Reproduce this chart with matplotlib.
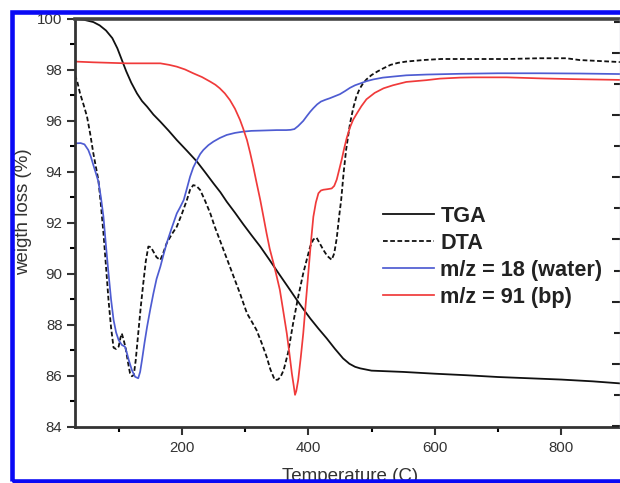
import matplotlib
matplotlib.use("Agg")
import matplotlib.pyplot as plt
from matplotlib.patches import Rectangle
from matplotlib.ticker import MultipleLocator

plt.rcParams['font.family'] = ['Liberation Sans', 'DejaVu Sans']

# TGA (solid black)
tga_t = [31, 45, 60, 70, 80, 90, 98, 105, 112, 120, 129, 137, 145, 155, 166, 179, 192,
         208, 224, 237, 250, 261, 271, 284, 297, 310, 324, 338, 353, 368, 382, 392,
         403, 416, 429, 442, 455, 465, 474, 482, 500, 550, 600, 650, 700, 750, 800,
         850, 893]
tga_v = [100.0, 99.97, 99.88, 99.75, 99.55, 99.25, 98.85, 98.4, 97.95, 97.5, 97.08,
         96.78, 96.56, 96.25, 95.97, 95.62, 95.25, 94.83, 94.4, 93.98, 93.55, 93.2,
         92.83, 92.4, 91.95, 91.52, 91.07, 90.57, 90.02, 89.48, 88.97, 88.62, 88.25,
         87.85, 87.47, 87.06, 86.68, 86.47, 86.35, 86.29, 86.2, 86.15, 86.08, 86.02,
         85.95, 85.9, 85.85, 85.78, 85.7]

# DTA (dashed black)
dta_t = [31, 35, 39, 45, 50, 55, 60, 64, 68, 72, 76, 80, 84, 88, 92, 96, 100, 103,
         105, 108, 111, 115, 118, 121, 124, 127, 131, 135, 139, 143, 147, 151, 155,
         160, 166, 171, 176, 184, 192, 200, 208, 213, 218, 223, 229, 237, 245, 252,
         260, 268, 276, 284, 292, 298, 303, 310, 318, 326, 334, 340, 347, 352, 356,
         361, 368, 376, 384, 392, 398, 403, 408, 413, 418, 424, 430, 437, 441, 445,
         449, 452, 456, 460, 463, 466, 471, 476, 481, 486, 492, 500, 510, 520, 530,
         542, 555, 582, 610, 660, 715, 766, 808, 829, 861, 893]
dta_v = [97.8, 97.5, 97.08, 96.6, 96.17, 95.5, 94.73, 94.2, 93.68, 92.7, 91.6, 90.3,
         88.97, 87.9, 87.1, 87.05, 87.14, 87.5, 87.66, 87.4, 87.1, 86.5, 86.1, 85.98,
         86.03, 86.6, 87.66, 88.7, 89.63, 90.5, 91.07, 91.05, 90.87, 90.65, 90.54,
         90.85, 91.2, 91.55, 91.85, 92.35, 92.9, 93.3, 93.48, 93.45, 93.29, 92.85,
         92.37, 91.85, 91.33, 90.8, 90.28, 89.75, 89.23, 88.8, 88.45, 88.15, 87.8,
         87.3, 86.75, 86.25, 85.83, 85.85, 85.95, 86.22, 86.9, 88.06, 89.1, 90.02,
         90.6, 91.07, 91.35, 91.42, 91.2, 90.93, 90.7, 90.55, 90.8, 91.4, 92.3, 92.9,
         94.0, 94.9, 95.4, 95.9, 96.5, 96.95, 97.25, 97.45, 97.63, 97.8, 97.95, 98.08,
         98.2, 98.28, 98.33, 98.39, 98.43, 98.43, 98.43, 98.46, 98.46, 98.39, 98.35,
         98.31]

# m/z = 18 (water)
w_t = [31, 40, 46, 52, 56, 60, 64, 68, 72, 76, 80, 84, 88, 92, 96, 100, 105, 110,
       113, 116, 121, 126, 131, 134, 137, 141, 145, 150, 155, 160, 166, 171, 176, 184,
       192, 197, 203, 208, 213, 218, 224, 229, 234, 242, 250, 260, 271, 284, 297, 310,
       324, 350, 365, 372, 378, 384, 392, 398, 403, 408, 414, 420, 427, 434, 442, 450,
       458, 466, 474, 482, 492, 503, 518, 534, 555, 587, 640, 700, 766, 830, 893]
w_v = [95.12, 95.13, 95.08, 94.86, 94.6, 94.27, 93.95, 93.62, 93.0, 92.24, 91.1,
       90.02, 89.0, 88.19, 87.7, 87.4, 87.21, 87.14, 86.9, 86.62, 86.22, 85.96, 85.9,
       86.15, 86.62, 87.3, 87.92, 88.6, 89.23, 89.8, 90.28, 90.75, 91.2, 91.8, 92.37,
       92.6, 92.9, 93.35, 93.81, 94.17, 94.47, 94.7, 94.86, 95.05, 95.19, 95.33,
       95.45, 95.53, 95.58, 95.61, 95.62, 95.64, 95.64, 95.65, 95.68, 95.8, 96.0,
       96.2, 96.36, 96.5, 96.65, 96.76, 96.83, 96.89, 96.97, 97.05, 97.17, 97.3,
       97.4, 97.47, 97.56, 97.63, 97.7, 97.74, 97.79, 97.82, 97.85, 97.87, 97.87,
       97.86, 97.84]

# m/z = 91 (bp)
bp_t = [31, 60, 113, 166, 180, 192, 205, 218, 232, 245, 253, 260, 268, 276, 284, 292,
        297, 303, 308, 313, 318, 324, 329, 334, 339, 345, 350, 355, 360, 366, 370, 374,
        377, 379, 381, 384, 388, 392, 396, 400, 404, 408, 412, 416, 420, 424, 430, 437,
        441, 445, 449, 453, 457, 461, 466, 471, 477, 484, 492, 505, 519, 534, 555, 587,
        608, 640, 661, 714, 766, 819, 893]
bp_v = [98.33, 98.3, 98.26, 98.26, 98.2, 98.13, 98.02, 97.87, 97.72, 97.54, 97.42,
        97.28, 97.08, 96.82, 96.48, 96.04, 95.7, 95.25, 94.75, 94.2, 93.6, 92.9, 92.25,
        91.59, 90.98, 90.41, 89.9, 89.37, 88.6, 87.66, 86.9, 86.09, 85.6, 85.25, 85.4,
        85.83, 86.7, 87.66, 88.85, 90.02, 91.2, 92.24, 92.8, 93.16, 93.27, 93.3, 93.32,
        93.35, 93.45, 93.7, 94.1, 94.5, 94.95, 95.35, 95.75, 96.05, 96.3, 96.58, 96.85,
        97.1, 97.28, 97.4, 97.53, 97.6, 97.66, 97.7, 97.71, 97.71, 97.67, 97.64, 97.61]

fig = plt.figure(figsize=(6.2, 4.83), dpi=100)
ax = fig.add_axes([75 / 620, 1 - 426.7 / 483, 1 - 75 / 620, (426.7 - 19) / 483])

ax.plot(tga_t, tga_v, color='#111111', lw=1.3, label='TGA')
ax.plot(dta_t, dta_v, color='#111111', lw=1.3, ls=(0, (2.6, 1.4)), label='DTA')
ax.plot(w_t, w_v, color='#4e5cd2', lw=1.25, label='m/z = 18 (water)')
ax.plot(bp_t, bp_v, color='#f03a3a', lw=1.25, label='m/z = 91 (bp)')

ax.set_xlim(31, 893)
ax.set_ylim(84, 100)
ax.xaxis.set_major_locator(MultipleLocator(200))
ax.xaxis.set_minor_locator(MultipleLocator(100))
ax.yaxis.set_major_locator(MultipleLocator(2))
ax.yaxis.set_minor_locator(MultipleLocator(1))
ax.tick_params(which='major', direction='out', length=6, width=1.5, labelsize=10.8,
               colors='#333333', pad=4, right=False, top=False)
ax.tick_params(which='minor', direction='out', length=3.5, width=1.5, right=False, top=False)
ax.tick_params(axis='y', which='major', pad=3)
for s in ax.spines.values():
    s.set_linewidth(2)
    s.set_color('#333333')
ax.spines['top'].set_linewidth(2.6)
ax.spines['top'].set_color('#444444')
ax.spines['right'].set_visible(False)

# right-hand ticks (labels fall outside the picture)
ax2 = ax.twinx()
ax2.set_ylim(-1.03, 12.1)
ax2.yaxis.set_major_locator(MultipleLocator(2, offset=1))
ax2.yaxis.set_minor_locator(MultipleLocator(2))
ax2.tick_params(which='both', direction='in', width=1.5, labelright=False, colors='#222222')
ax2.tick_params(which='major', length=6)
ax2.tick_params(which='minor', length=4)
ax2.spines['right'].set_color('#c8c8d8')
ax2.spines['right'].set_linewidth(1)
for s in ['top', 'left', 'bottom']:
    ax2.spines[s].set_visible(False)

leg = ax.legend(loc='upper left', bbox_to_anchor=(383 / 620, 1 - 206 / 483),
                bbox_transform=fig.transFigure, frameon=False,
                prop={'weight': 'bold', 'size': 15.6}, handlelength=2.35,
                handletextpad=0.3, labelspacing=0.27, borderpad=0, borderaxespad=0)
for t in leg.get_texts():
    t.set_color('#222222')

fig.text(24 / 620, 1 - 212 / 483, 'weigth loss (%)', rotation=90, ha='center',
         va='center', fontsize=13.5, color='#333333')
fig.text(350 / 620, 1 - 481 / 483, 'Temperature (C)', ha='center', va='baseline',
         fontsize=13.5, color='#333333')

border = Rectangle((12 / 620, 1 - 480.5 / 483), 1.2, (480.5 - 12.3) / 483,
                   transform=fig.transFigure, fill=False, edgecolor='#0a0af5',
                   lw=3.3, clip_on=False, zorder=10)
fig.patches.append(border)

fig.savefig('out.png', dpi=100, facecolor='white')
